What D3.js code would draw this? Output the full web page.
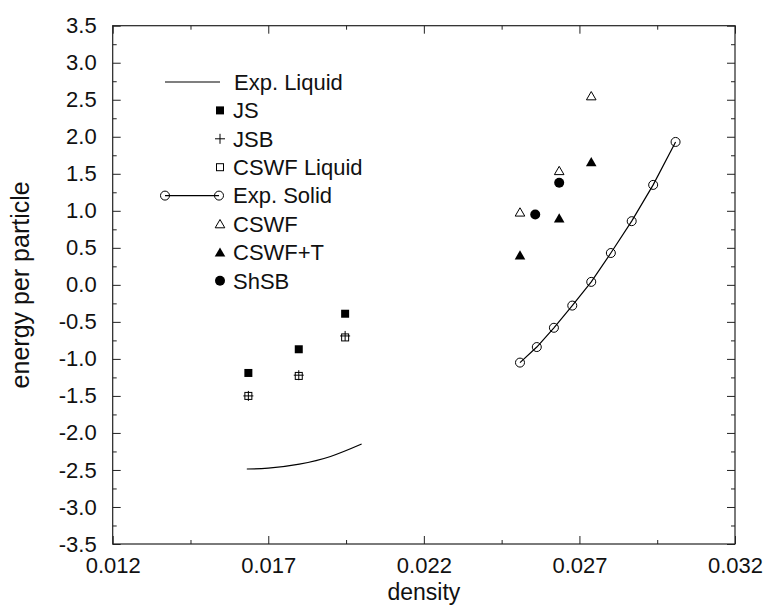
<!DOCTYPE html>
<html>
<head>
<meta charset="utf-8">
<script src="https://cdn.jsdelivr.net/npm/d3@7"></script>
<style>
  body { margin: 0; background: #fff; }
  svg { display: block; font-family: "Liberation Sans", Arial, Helvetica, sans-serif; }
</style>
</head>
<body>
<div id="graph"></div>
<script>
// values
var xTicks = [0.012, 0.017, 0.022, 0.027, 0.032];
var yTicks = [-3.5, -3.0, -2.5, -2.0, -1.5, -1.0, -0.5, 0.0, 0.5, 1.0, 1.5, 2.0, 2.5, 3.0, 3.5];

var expLiquidX = [0.01631, 0.0170, 0.0180, 0.0190, 0.0200];
var expLiquidY = [-2.487, -2.476, -2.42, -2.318, -2.15];

var jsX = [0.01636, 0.01798, 0.01947];
var jsY = [-1.19, -0.87, -0.39];
var jsbY = [-1.50, -1.22, -0.69];
var cswfLiqY = [-1.50, -1.23, -0.71];

var expSolidX = [0.02509, 0.02563, 0.02618, 0.02677, 0.02738, 0.02801, 0.02868, 0.02937, 0.03009];
var expSolidY = [-1.05, -0.84, -0.58, -0.28, 0.04, 0.43, 0.86, 1.35, 1.93];

var cswfX = [0.02509, 0.02635, 0.02738];
var cswfY = [0.98, 1.54, 2.55];
var cswfTY = [0.40, 0.90, 1.66];

var shsbX = [0.02558, 0.02635];
var shsbY = [0.95, 1.38];

var legendLabels = ['Exp. Liquid', 'JS', 'JSB', 'CSWF Liquid', 'Exp. Solid', 'CSWF', 'CSWF+T', 'ShSB'];

var width = 766, height = 607;
var margin = { top: 25.7, right: 31, bottom: 63, left: 112.7 };
var w = width - margin.left - margin.right;
var h = height - margin.top - margin.bottom;

var svg = d3.select('#graph').append('svg')
    .attr('width', width).attr('height', height);
var g = svg.append('g').attr('transform', 'translate(' + margin.left + ',' + margin.top + ')');

var x = d3.scaleLinear().domain([0.012, 0.032]).range([0, w]);
var y = d3.scaleLinear().domain([-3.5, 3.5]).range([h, 0]);

// minor ticks halfway between the labelled ones
var xMinor = d3.range(0, xTicks.length - 1).map(function(i) { return (xTicks[i] + xTicks[i + 1]) / 2; });
var yMinor = d3.range(0, yTicks.length - 1).map(function(i) { return (yTicks[i] + yTicks[i + 1]) / 2; });

function drawTicks(axis, vals, len) {
  axis.tickValues(vals).tickSizeInner(-len).tickSizeOuter(0).tickFormat('');
  return axis;
}

var fs = 22;

// bottom
g.append('g').attr('transform', 'translate(0,' + h + ')')
    .call(d3.axisBottom(x).tickValues(xTicks).tickSizeInner(-8).tickSizeOuter(0).tickPadding(13)
      .tickFormat(function(d) { return d.toFixed(3); }));
g.append('g').attr('transform', 'translate(0,' + h + ')').call(drawTicks(d3.axisBottom(x), xMinor, 4));
// top (mirror)
g.append('g').call(drawTicks(d3.axisTop(x), xTicks, 8));
g.append('g').call(drawTicks(d3.axisTop(x), xMinor, 4));
// left
g.append('g')
    .call(d3.axisLeft(y).tickValues(yTicks).tickSizeInner(-8).tickSizeOuter(0).tickPadding(16)
      .tickFormat(function(d) { return d.toFixed(1); }));
g.append('g').call(drawTicks(d3.axisLeft(y), yMinor, 4));
// right (mirror)
g.append('g').attr('transform', 'translate(' + w + ',0)').call(drawTicks(d3.axisRight(y), yTicks, 8));
g.append('g').attr('transform', 'translate(' + w + ',0)').call(drawTicks(d3.axisRight(y), yMinor, 4));

g.selectAll('.domain').remove();
g.selectAll('.tick line').attr('stroke', '#222');
g.selectAll('.tick text').attr('font-size', fs).attr('fill', '#111')
    .attr('font-family', '"Liberation Sans", Arial, sans-serif');

g.append('rect').attr('width', w).attr('height', h)
    .attr('fill', 'none').attr('stroke', '#222').attr('stroke-width', 1.2);

// axis titles
svg.append('text').attr('x', margin.left + w / 2).attr('y', 600)
    .attr('text-anchor', 'middle').attr('font-size', 23).attr('fill', '#111').text('density');
svg.append('text').attr('transform', 'translate(29,' + (margin.top + h / 2) + ') rotate(-90)')
    .attr('text-anchor', 'middle').attr('font-size', 25).attr('fill', '#111').text('energy per particle');

// marker helpers
function zip(xs, ys) { return xs.map(function(v, i) { return [v, ys[i]]; }); }

function marker(sel, type) {
  if (type === 'sqFill') {
    sel.append('rect').attr('x', -4).attr('y', -4).attr('width', 8).attr('height', 8).attr('fill', '#000');
  } else if (type === 'sqOpen') {
    sel.append('rect').attr('x', -3.5).attr('y', -3.5).attr('width', 7).attr('height', 7)
        .attr('fill', 'none').attr('stroke', '#000').attr('stroke-width', 1);
  } else if (type === 'plus') {
    sel.append('path').attr('d', 'M-5,0H5M0,-5V5').attr('stroke', '#000').attr('stroke-width', 1);
  } else if (type === 'circOpen') {
    sel.append('circle').attr('r', 4.5).attr('fill', 'none').attr('stroke', '#000').attr('stroke-width', 1);
  } else if (type === 'circFill') {
    sel.append('circle').attr('r', 5).attr('fill', '#000');
  } else if (type === 'triOpen') {
    sel.append('path').attr('d', 'M0,-4.5L4.8,3.8L-4.8,3.8Z')
        .attr('fill', 'none').attr('stroke', '#000').attr('stroke-width', 1);
  } else if (type === 'triFill') {
    sel.append('path').attr('d', 'M0,-5L5.3,4.2L-5.3,4.2Z').attr('fill', '#000');
  }
}

function drawPoints(data, type) {
  g.append('g').selectAll('g').data(data).enter().append('g')
      .attr('transform', function(d) { return 'translate(' + x(d[0]) + ',' + y(d[1]) + ')'; })
      .each(function() { marker(d3.select(this), type); });
}

var line = d3.line().x(function(d) { return x(d[0]); }).y(function(d) { return y(d[1]); });

g.append('path').datum(zip(expLiquidX, expLiquidY))
    .attr('d', line.curve(d3.curveNatural)).attr('fill', 'none').attr('stroke', '#000').attr('stroke-width', 1.2);
g.append('path').datum(zip(expSolidX, expSolidY))
    .attr('d', line.curve(d3.curveLinear))
    .attr('fill', 'none').attr('stroke', '#000').attr('stroke-width', 1.2);

drawPoints(zip(jsX, jsY), 'sqFill');
drawPoints(zip(jsX, cswfLiqY), 'sqOpen');
drawPoints(zip(jsX, jsbY), 'plus');
drawPoints(zip(expSolidX, expSolidY), 'circOpen');
drawPoints(zip(cswfX, cswfY), 'triOpen');
drawPoints(zip(cswfX, cswfTY), 'triFill');
drawPoints(zip(shsbX, shsbY), 'circFill');

// legend
var legendTypes = [null, 'sqFill', 'plus', 'sqOpen', 'circOpen', 'triOpen', 'triFill', 'circFill'];
var leg = svg.append('g');
legendLabels.forEach(function(label, i) {
  var ly = 82 + i * 28.4;
  var row = leg.append('g').attr('transform', 'translate(0,' + ly + ')');
  if (i === 0) {
    row.append('line').attr('x1', 165).attr('x2', 220).attr('stroke', '#000').attr('stroke-width', 1.2);
  } else if (label === 'Exp. Solid') {
    row.append('line').attr('x1', 165).attr('x2', 219).attr('stroke', '#000').attr('stroke-width', 1.2);
    marker(row.append('g').attr('transform', 'translate(165,0)'), 'circOpen');
    marker(row.append('g').attr('transform', 'translate(219,0)'), 'circOpen');
  } else {
    marker(row.append('g').attr('transform', 'translate(220,0)'), legendTypes[i]);
  }
  row.append('text').attr('x', i === 0 ? 234 : 233).attr('y', 7.8)
      .attr('font-size', fs).attr('fill', '#111').text(label);
});
</script>
</body>
</html>
